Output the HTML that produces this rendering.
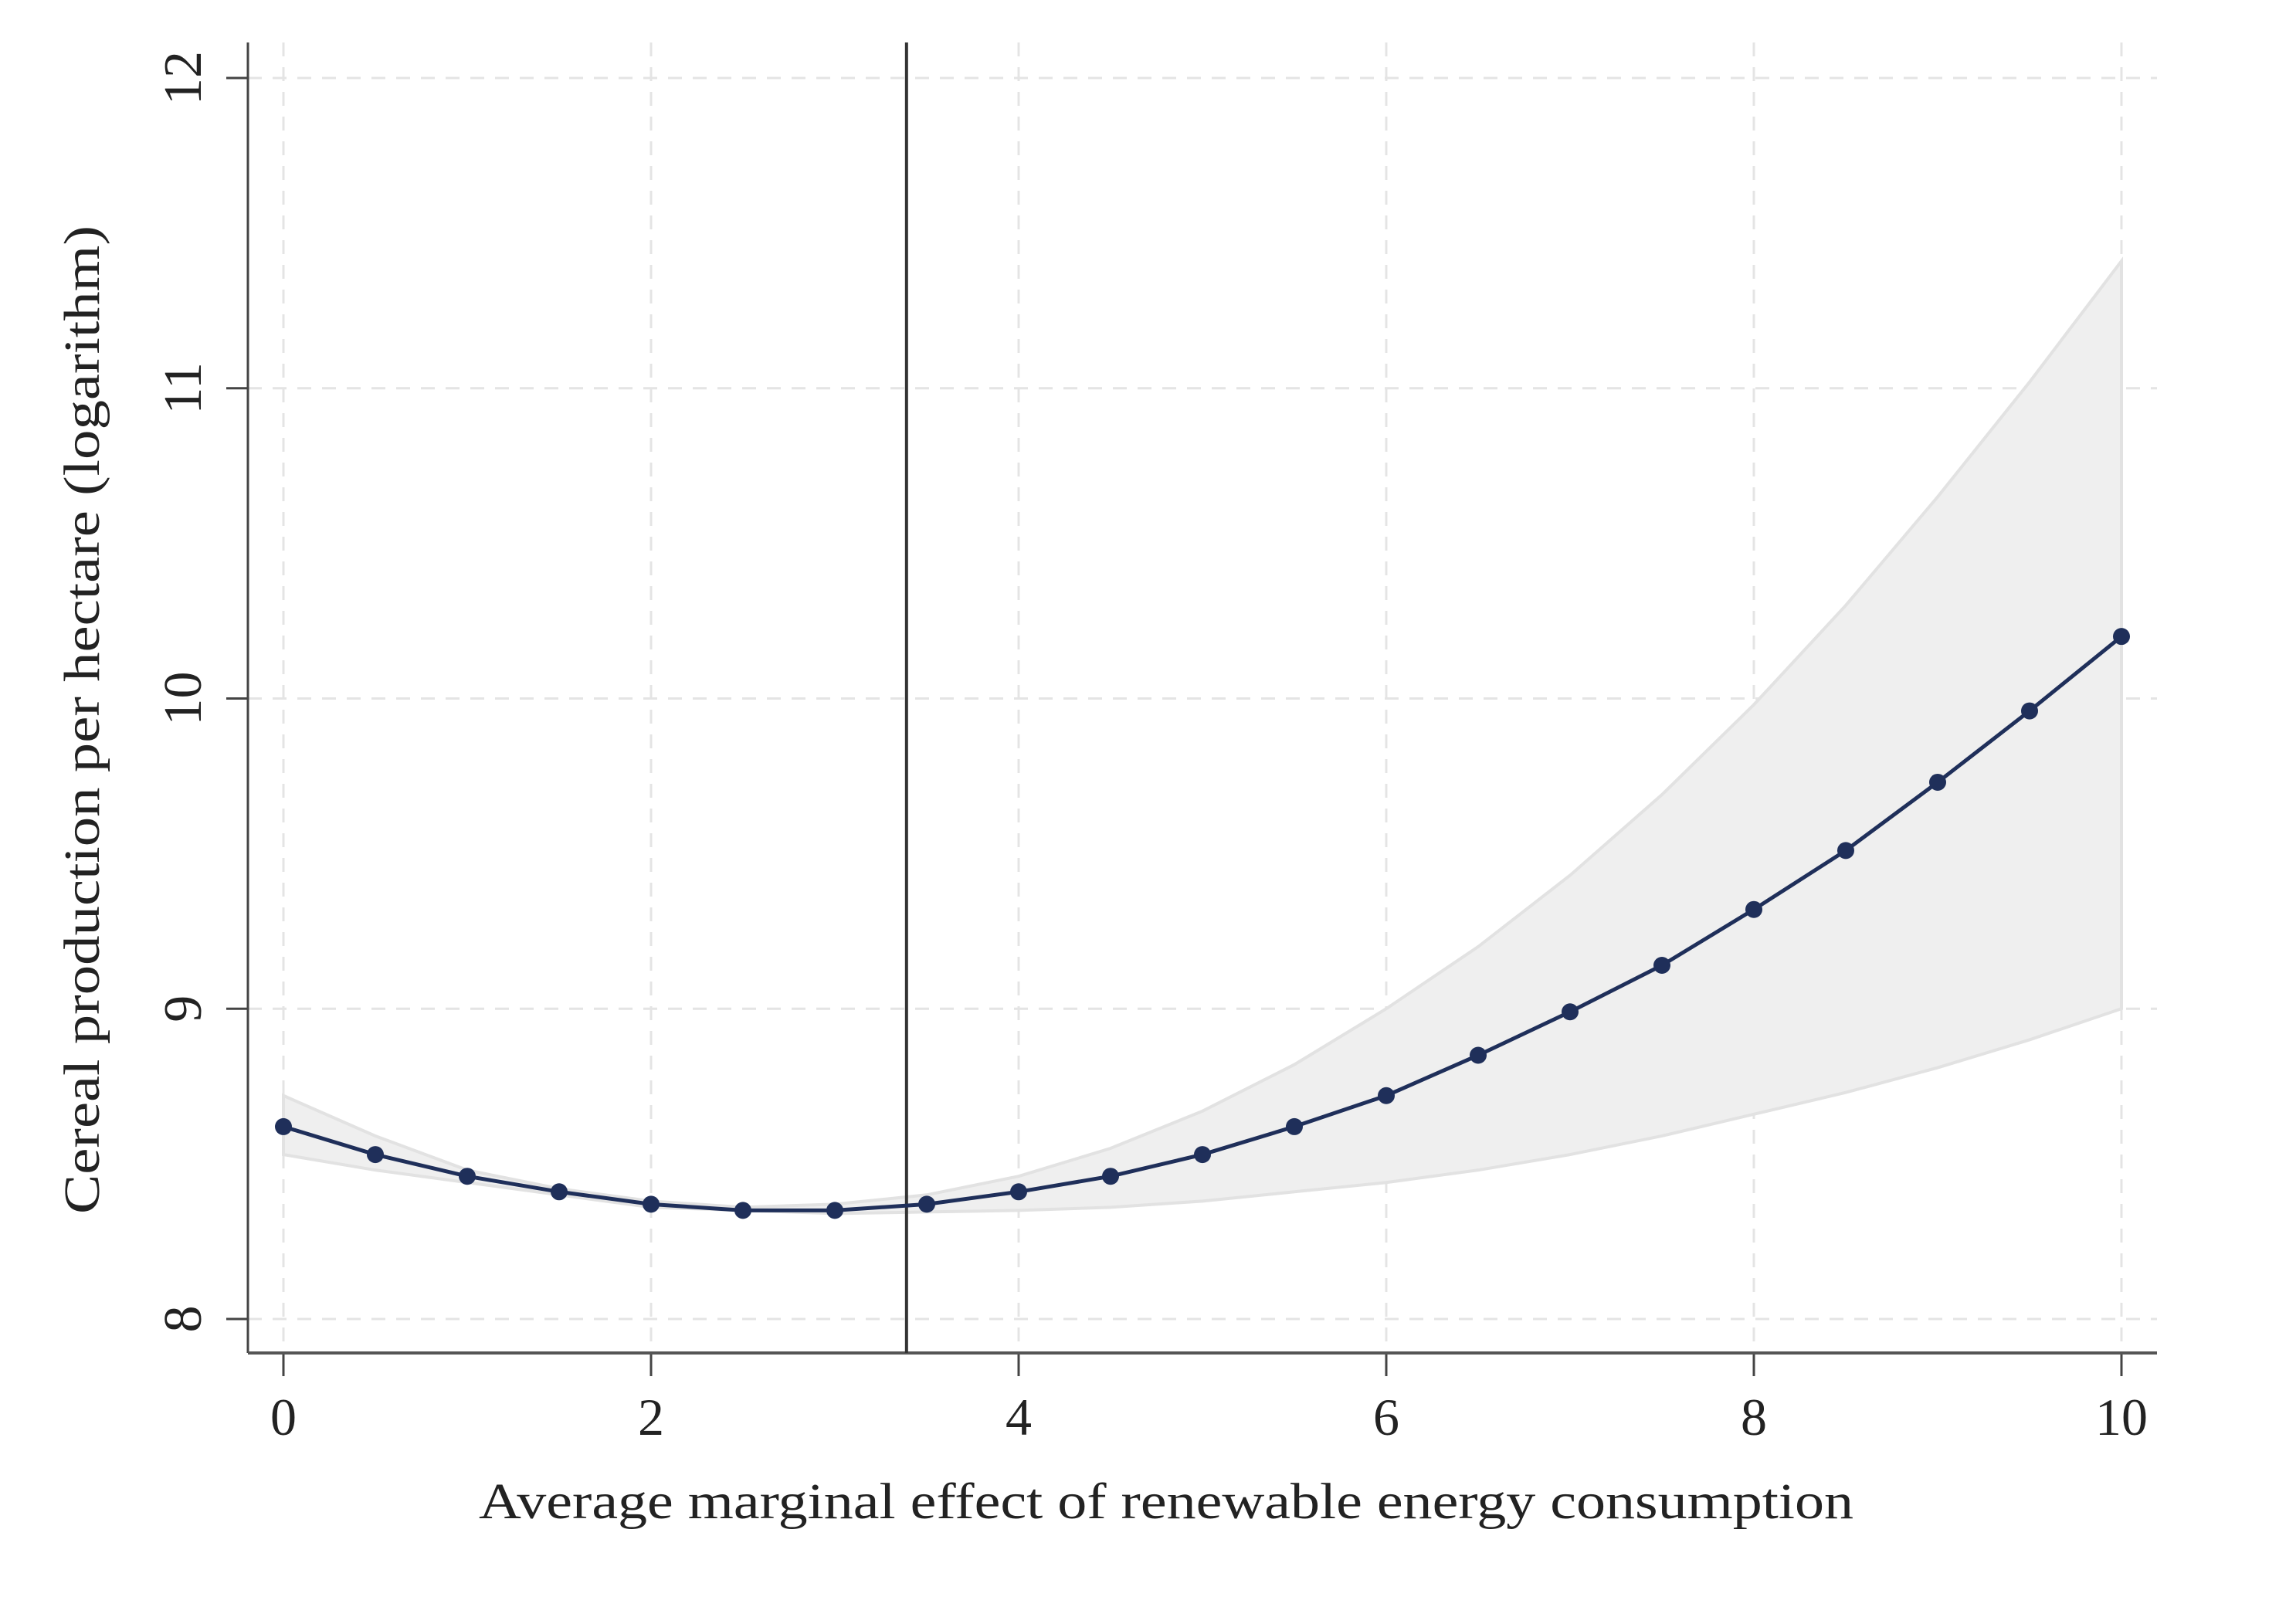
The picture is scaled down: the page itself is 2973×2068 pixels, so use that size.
<!DOCTYPE html>
<html><head><meta charset="utf-8"><style>
html,body{margin:0;padding:0;background:#fff;}
svg{display:block;}
text{font-family:"Liberation Serif",serif;fill:#222;}
</style></head><body>
<svg id="chart" width="2973" height="2068" viewBox="0 0 2973 2068" xmlns="http://www.w3.org/2000/svg">
<rect width="2973" height="2068" fill="#fff"/>
<g id="grid"></g>
<g id="ci"></g>
<g id="axes"></g>
<g id="series"></g>
<text transform="translate(128,932) rotate(-90)" text-anchor="middle" font-size="66" textLength="1280" lengthAdjust="spacingAndGlyphs">Cereal production per hectare (logarithm)</text>
<text x="1510" y="1966" text-anchor="middle" font-size="66" textLength="1780" lengthAdjust="spacingAndGlyphs">Average marginal effect of renewable energy consumption</text>
</svg>
<script>
const xValues=[0,0.5,1,1.5,2,2.5,3,3.5,4,4.5,5,5.5,6,6.5,7,7.5,8,8.5,9,9.5,10];
const estimate=[8.62,8.53,8.46,8.41,8.37,8.35,8.35,8.37,8.41,8.46,8.53,8.62,8.72,8.85,8.99,9.14,9.32,9.51,9.73,9.96,10.20];
const upperCI=[8.72,8.59,8.48,8.42,8.38,8.36,8.37,8.40,8.46,8.55,8.67,8.82,9.00,9.20,9.43,9.69,9.98,10.30,10.65,11.02,11.41];
const lowerCI=[8.53,8.48,8.44,8.40,8.36,8.35,8.34,8.345,8.35,8.36,8.38,8.41,8.44,8.48,8.53,8.59,8.66,8.73,8.81,8.90,9.00];
const xTicks=[0,2,4,6,8,10];
const yTicks=[8,9,10,11,12];
const refLine=3.39;

const NS="http://www.w3.org/2000/svg";
const X=v=>367+v*238;
const Y=v=>1708-(v-8)*401.75;
function mk(tag,attrs,parent){const e=document.createElementNS(NS,tag);for(const k in attrs)e.setAttribute(k,attrs[k]);parent.appendChild(e);return e;}
const grid=document.getElementById('grid'),axes=document.getElementById('axes'),ci=document.getElementById('ci'),series=document.getElementById('series');

yTicks.forEach(t=>{
  const g=mk('line',{x1:321,x2:2793,y1:Y(t),y2:Y(t),stroke:'#e4e4e4','stroke-width':3,'stroke-dasharray':'18 14'},grid);
  
  
  const tk=mk('line',{x1:293,x2:321,y1:Y(t),y2:Y(t),stroke:'#444','stroke-width':3},axes);
  
  
  const lb=mk('text',{transform:`translate(260,${Y(t)}) rotate(-90)`,'text-anchor':'middle','font-size':70},axes);
  lb.textContent=t;
  
  
});
xTicks.forEach(t=>{
  const g=mk('line',{x1:X(t),x2:X(t),y1:55,y2:1752,stroke:'#e4e4e4','stroke-width':3,'stroke-dasharray':'18 14'},grid);
  
  
  const tk=mk('line',{x1:X(t),x2:X(t),y1:1752,y2:1782,stroke:'#444','stroke-width':3},axes);
  
  
  const lb=mk('text',{x:X(t),y:1858,'text-anchor':'middle','font-size':68},axes);
  lb.textContent=t;
  
  
});

let d='M'+xValues.map((x,i)=>X(x)+','+Y(upperCI[i])).join(' L');
for(let i=xValues.length-1;i>=0;i--) d+=' L'+X(xValues[i])+','+Y(lowerCI[i]);
d+='Z';
const band=mk('path',{d:d,fill:'#efefef',stroke:'#e2e2e2','stroke-width':4},ci);



const ya=mk('line',{x1:321,x2:321,y1:55,y2:1752,stroke:'#444','stroke-width':3},axes);


const xa=mk('line',{x1:321,x2:2793,y1:1752,y2:1752,stroke:'#555','stroke-width':4},axes);


const rl=mk('line',{x1:X(refLine),x2:X(refLine),y1:55,y2:1752,stroke:'#333','stroke-width':4},axes);



const ln=mk('polyline',{points:xValues.map((x,i)=>X(x)+','+Y(estimate[i])).join(' '),fill:'none',stroke:'#1f2f5a','stroke-width':5},series);


xValues.forEach((x,i)=>{
  const c=mk('circle',{cx:X(x),cy:Y(estimate[i]),r:11,fill:'#1f2f5a'},series);
  
  
});
</script>
</body></html>
